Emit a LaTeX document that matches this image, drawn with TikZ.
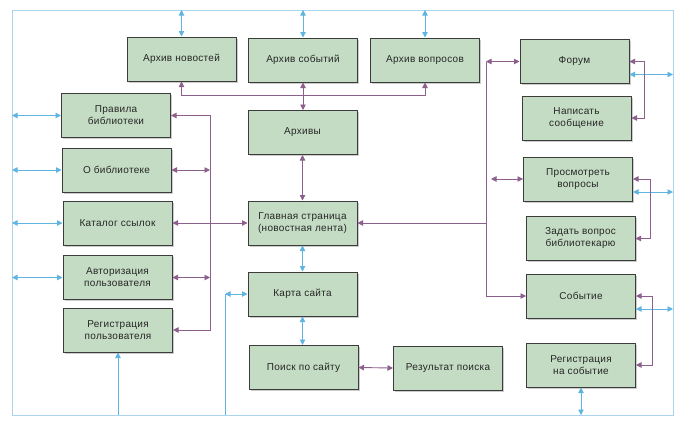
\documentclass[tikz,border=0pt]{standalone}
\usepackage{fontspec}
\setmainfont{Liberation Sans}[LetterSpace=3]
\usetikzlibrary{arrows.meta,shadows}
\definecolor{boxfill}{RGB}{196,220,196}
\definecolor{boxdraw}{RGB}{60,60,60}
\definecolor{bluec}{RGB}{95,180,225}
\definecolor{purc}{RGB}{140,95,140}
\definecolor{framec}{RGB}{170,212,238}
\begin{document}
\begin{tikzpicture}[x=1pt,y=-1pt,
  >={Triangle[length=5.5pt,width=5.5pt]},
  box/.style={draw=boxdraw,line width=1pt,fill=boxfill,minimum width=109pt,minimum height=44pt,
    inner sep=1pt,align=center,font=\fontsize{10}{12}\selectfont,text=black!85,
    drop shadow={shadow xshift=1.8pt,shadow yshift=-1.8pt,opacity=0.4}},
  bl/.style={draw=bluec,line width=0.9pt},
  pu/.style={draw=purc,line width=0.9pt},
  fr/.style={draw=framec,line width=1pt}]
\useasboundingbox (0,0) rectangle (691,424);
\coordinate (ftl) at (12,10);
\coordinate (fbr) at (673,415);
\draw[fr] (ftl) rectangle (fbr);
\coordinate (hb) at (0,95);
\coordinate (lv) at (210,0);
\coordinate (rv) at (486,0);
\coordinate (mc) at (225,294);

\node[box] (an) at (181.5,59) {Архив новостей};
\node[box] (as) at (303,60) {Архив событий};
\node[box] (av) at (425,60) {Архив вопросов};
\node[box] (forum) at (574.5,61.5) {Форум};
\node[box] (write) at (576.5,118) {Написать\\сообщение};
\node[box] (rules) at (116,115.5) {Правила\\библиотеки};
\node[box] (arch) at (302.5,132.5) {Архивы};
\node[box] (about) at (116.5,170) {О библиотеке};
\node[box] (cat) at (117.5,223) {Каталог ссылок};
\node[box] (main) at (302.5,223) {Главная страница\\(новостная лента)};
\node[box] (view) at (578,179) {Просмотреть\\вопросы};
\node[box] (ask) at (580.5,238.5) {Задать вопрос\\библиотекарю};
\node[box] (auth) at (117.5,277.5) {Авторизация\\пользователя};
\node[box] (reg) at (118,330) {Регистрация\\пользователя};
\node[box] (map) at (302.5,294) {Карта сайта};
\node[box] (search) at (303.5,367.5) {Поиск по сайту};
\node[box] (result) at (448,368) {Результат поиска};
\node[box] (event) at (581,296) {Событие};
\node[box] (regev) at (581,365) {Регистрация\\на событие};

% blue connectors
\draw[bl,<->] (an.north) -- (an.north |- ftl);
\draw[bl,<->] (as.north) -- (as.north |- ftl);
\draw[bl,<->] (av.north) -- (av.north |- ftl);
\draw[bl,<->] (rules.west) -- (rules.west -| ftl);
\draw[bl,<->] (about.west) -- (about.west -| ftl);
\draw[bl,<->] (cat.west) -- (cat.west -| ftl);
\draw[bl,<->] (auth.west) -- (auth.west -| ftl);
\draw[bl,->] (reg.south |- fbr) -- (reg.south);
\draw[bl] (mc |- fbr) -- (mc);
\draw[bl,<->] (mc) -- (map.west);
\draw[bl,<->] (regev.south) -- (regev.south |- fbr);
\draw[bl,<->] ([yshift=-13pt]forum.east) -- ([yshift=-13pt]forum.east -| fbr);
\draw[bl,<->] ([yshift=-13pt]view.east) -- ([yshift=-13pt]view.east -| fbr);
\draw[bl,<->] ([yshift=-13pt]event.east) -- ([yshift=-13pt]event.east -| fbr);
\draw[bl,<->] (main.south) -- (map.north);
\draw[bl,<->] (map.south) -- (map.south |- search.north);

% purple connectors
\draw[pu,<->] (an.south) -- (an.south |- hb) -- (av.south |- hb) -- (av.south);
\draw[pu,<->] (as.south) -- (as.south |- arch.north);
\draw[pu,<->] (arch.south) -- (main.north);
\draw[pu,<->] (rules.east) -- (rules.east -| lv) -- (reg.east -| lv) -- (reg.east);
\draw[pu,<->] (about.east) -- (about.east -| lv);
\draw[pu,<->] (auth.east) -- (auth.east -| lv);
\draw[pu,<->] (cat.east) -- (main.west);
\draw[pu] (forum.west -| rv) -- (event.west -| rv);
\draw[pu,<->] (forum.west -| rv) -- (forum.west);
\draw[pu,<->] ([xshift=5pt]view.west -| rv) -- (view.west);
\draw[pu,->] (main.east -| rv) -- (main.east);
\draw[pu,->] (event.west -| rv) -- (event.west);
\draw[pu,<->] (forum.east) -- ++(15,0) |- (write.east);
\draw[pu,<->] (view.east) -- ++(17,0) |- (ask.east);
\draw[pu,<->] (event.east) -- ++(16,0) |- (regev.east);
\draw[pu,<->] (search.east) -- (result.west);
\end{tikzpicture}
\end{document}
